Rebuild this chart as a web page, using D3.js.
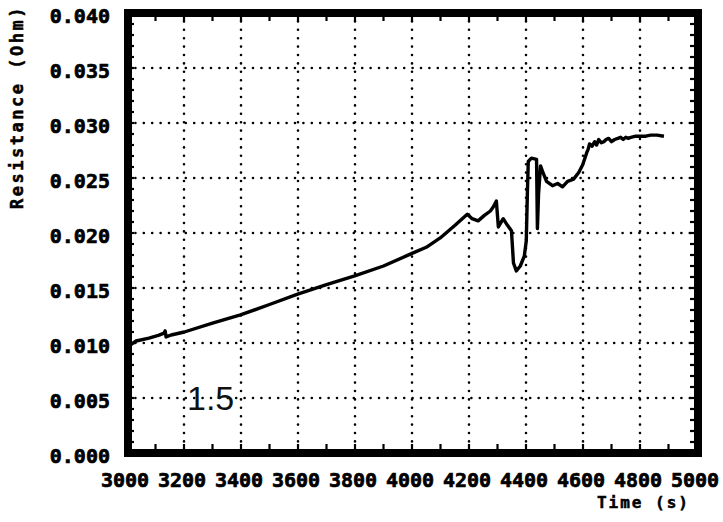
<!DOCTYPE html>
<html>
<head>
<meta charset="utf-8">
<script src="https://cdn.jsdelivr.net/npm/d3@7"></script>
<style>
  html, body { margin: 0; padding: 0; background: #fff; }
  svg { display: block; }
</style>
</head>
<body>
<svg id="chart" width="723" height="522"></svg>
<script>
// Resistance trace over time
const timeS = [3007, 3032, 3077, 3110, 3130, 3134, 3137, 3155, 3201, 3300, 3398, 3500, 3599, 3700, 3799, 3900,
  3996, 4050, 4099, 4151, 4194, 4211, 4232, 4254, 4275, 4285, 4296, 4303, 4320, 4335, 4349, 4356, 4366,
  4380, 4394, 4401, 4405, 4408, 4419, 4437, 4440, 4444, 4451, 4458, 4472, 4493, 4511, 4528, 4546, 4567,
  4585, 4599, 4613, 4618, 4623, 4632, 4641, 4648, 4655, 4664, 4673, 4681, 4690, 4700, 4711, 4722, 4732,
  4741, 4750, 4759, 4768, 4785, 4803, 4820, 4838, 4860, 4884];
const resistance = [0.00973, 0.01018, 0.01045, 0.0107, 0.0109, 0.0111, 0.01055, 0.01073, 0.0110, 0.0118, 0.01255, 0.0135, 0.01445, 0.0153, 0.0161, 0.0170,
  0.0181, 0.0187, 0.01955, 0.0207, 0.0217, 0.0213, 0.0211, 0.0216, 0.0220, 0.02236, 0.0229, 0.02055, 0.0213, 0.0207, 0.0202, 0.01727, 0.01655,
  0.0170, 0.0179, 0.0193, 0.0238, 0.0265, 0.0268, 0.0267, 0.0204, 0.0235, 0.0261, 0.0256, 0.0247, 0.0243, 0.0245, 0.0242, 0.0247, 0.0249,
  0.0255, 0.0262, 0.0273, 0.0276, 0.0281, 0.0279, 0.0283, 0.0280, 0.0285, 0.0282, 0.0283, 0.0285, 0.0286, 0.0283, 0.0285, 0.0286, 0.0287,
  0.0285, 0.0287, 0.0286, 0.0287, 0.0288, 0.0288, 0.0288, 0.0289, 0.0289, 0.0288];

const xTicks = [3000, 3200, 3400, 3600, 3800, 4000, 4200, 4400, 4600, 4800, 5000];
const yTicks = [0.000, 0.005, 0.010, 0.015, 0.020, 0.025, 0.030, 0.035, 0.040];
const xTitle = "Time (s)";
const yTitle = "Resistance (Ohm)";
const annotation = "1.5";

const svg = d3.select("#chart");
const x = d3.scaleLinear().domain([3000, 5000]).range([127, 697]);
const y = d3.scaleLinear().domain([0, 0.040]).range([453, 13]);

const monoBold = "'DejaVu Sans Mono', monospace";

// dotted grid
const grid = svg.append("g")
  .attr("stroke", "#000").attr("stroke-width", 2.6)
  .attr("stroke-linecap", "round").attr("stroke-dasharray", "0 8.4");
grid.selectAll("line.v").data(xTicks.slice(1, -1)).join("line")
  .attr("x1", d => x(d)).attr("x2", d => x(d))
  .attr("y1", y(0.040)).attr("y2", y(0));
grid.selectAll("line.h").data(yTicks.slice(1, -1)).join("line")
  .attr("x1", x(3000)).attr("x2", x(5000))
  .attr("y1", d => y(d)).attr("y2", d => y(d));

// minor ticks on all four sides, pointing inward
const minorX = d3.range(3100, 5000, 100);
const minorY = d3.range(0.001, 0.040, 0.001);
const ticks = svg.append("g").attr("stroke", "#000").attr("stroke-width", 2.2);
ticks.selectAll("line.b").data(minorX).join("line")
  .attr("x1", d => x(d)).attr("x2", d => x(d))
  .attr("y1", y(0)).attr("y2", y(0) - 9);
ticks.selectAll("line.t").data(minorX).join("line")
  .attr("x1", d => x(d)).attr("x2", d => x(d))
  .attr("y1", y(0.040)).attr("y2", y(0.040) + 8);
ticks.selectAll("line.l").data(minorY).join("line")
  .attr("x1", x(3000)).attr("x2", x(3000) + 7)
  .attr("y1", d => y(d)).attr("y2", d => y(d));
ticks.selectAll("line.r").data(minorY).join("line")
  .attr("x1", x(5000)).attr("x2", x(5000) - 7)
  .attr("y1", d => y(d)).attr("y2", d => y(d));

// data trace
const pts = timeS.map((t, i) => [t, resistance[i]]);
svg.append("path")
  .datum(pts)
  .attr("fill", "none").attr("stroke", "#000").attr("stroke-width", 3.4)
  .attr("stroke-linejoin", "round")
  .attr("d", d3.line().x(d => x(d[0])).y(d => y(d[1])));

// heavy frame
svg.append("rect")
  .attr("x", x(3000) + 1).attr("y", y(0.040))
  .attr("width", x(5000) - x(3000)).attr("height", y(0) - y(0.040))
  .attr("fill", "none").attr("stroke", "#000").attr("stroke-width", 8);

// tick labels
svg.append("g").selectAll("text").data(xTicks).join("text")
  .attr("x", d => x(d) - 2).attr("y", 487)
  .attr("text-anchor", "middle")
  .attr("font-family", monoBold).attr("font-weight", "bold").attr("font-size", 20)
  .attr("stroke", "#000").attr("stroke-width", 0.7)
  .text(d => d);
svg.append("g").selectAll("text").data(yTicks).join("text")
  .attr("x", 110).attr("y", d => y(d) + 9.5)
  .attr("text-anchor", "end")
  .attr("font-family", monoBold).attr("font-weight", "bold").attr("font-size", 20)
  .attr("stroke", "#000").attr("stroke-width", 0.7)
  .text(d => d3.format(".3f")(d));

// axis titles
svg.append("text")
  .attr("x", 690).attr("y", 508).attr("text-anchor", "end")
  .attr("font-family", monoBold).attr("font-weight", "bold").attr("font-size", 16)
  .attr("stroke", "#000").attr("stroke-width", 0.5)
  .attr("letter-spacing", 2)
  .text(xTitle);
svg.append("text")
  .attr("transform", "translate(23,107) rotate(-90)")
  .attr("text-anchor", "middle")
  .attr("font-family", monoBold).attr("font-weight", "bold").attr("font-size", 17)
  .attr("stroke", "#000").attr("stroke-width", 0.5)
  .attr("letter-spacing", 2.5)
  .text(yTitle);

// annotation
svg.append("text")
  .attr("x", 187).attr("y", 410)
  .attr("font-family", "'Liberation Sans', Arial, sans-serif").attr("font-size", 34)
  .attr("fill", "#111")
  .text(annotation);
</script>
</body>
</html>
